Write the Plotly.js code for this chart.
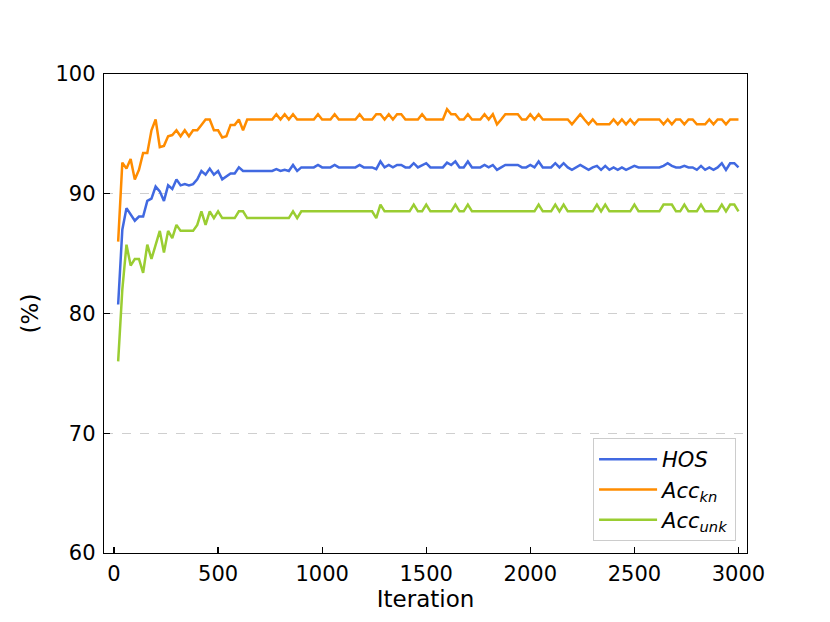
<!DOCTYPE html>
<html>
<head>
<meta charset="utf-8">
<script src="https://cdn.plot.ly/plotly-3.0.1.min.js"></script>
<style>
  html, body { margin: 0; padding: 0; background: #fff; }
  #chart { width: 830px; height: 622px; }
</style>
</head>
<body>
<div id="chart"></div>
<script>
// Iterations: evaluated every 20 iterations from 20 to 3000
const iterStep = 20;
const iterCount = 150;
const iterations = [];
for (let i = 1; i <= iterCount; i++) iterations.push(i * iterStep);

// Known-class accuracy (orange)
const accKn = [
  86.0, 92.6, 92.1, 92.9, 91.2, 92.0, 93.4, 93.4, 95.3, 96.2,
  93.9, 94.0, 94.8, 94.9, 95.3, 94.8, 95.3, 94.8, 95.3, 95.3,
  95.75, 96.2, 96.2, 95.3, 95.3, 94.7, 94.8, 95.75, 95.75, 96.2,
  95.3, 96.2, 96.2, 96.2, 96.2, 96.2, 96.2, 96.2, 96.64, 96.2,
  96.64, 96.2, 96.64, 96.2, 96.2, 96.2, 96.2, 96.2, 96.64, 96.2,
  96.2, 96.2, 96.64, 96.2, 96.2, 96.2, 96.2, 96.2, 96.64, 96.2,
  96.2, 96.2, 96.64, 96.64, 96.2, 96.64, 96.2, 96.64, 96.64, 96.2,
  96.2, 96.2, 96.2, 96.64, 96.2, 96.2, 96.2, 96.2, 96.2, 97.06,
  96.64, 96.64, 96.2, 96.2, 96.64, 96.2, 96.2, 96.2, 96.64, 96.2,
  96.64, 95.8, 96.2, 96.64, 96.64, 96.64, 96.64, 96.2, 96.2, 96.64,
  96.2, 96.64, 96.2, 96.2, 96.2, 96.2, 96.2, 96.2, 96.2, 95.8,
  96.2, 96.64, 96.2, 95.8, 96.2, 95.8, 95.8, 95.8, 95.8, 96.2,
  95.8, 96.2, 95.8, 96.2, 95.8, 96.2, 96.2, 96.2, 96.2, 96.2,
  96.2, 95.8, 96.2, 95.8, 96.2, 96.2, 95.8, 96.2, 96.2, 95.8,
  95.8, 95.8, 96.2, 95.8, 96.2, 96.2, 95.8, 96.2, 96.2, 96.2
];

// Unknown-class accuracy (green)
const accUnk = [
  76.0, 82.0, 85.75, 84.0, 84.55, 84.55, 83.4, 85.75, 84.55, 85.75,
  86.9, 85.1, 86.9, 86.3, 87.4, 86.9, 86.9, 86.9, 86.9, 87.4,
  88.53, 87.4, 88.53, 87.97, 88.53, 87.97, 87.97, 87.97, 87.97, 88.53,
  88.53, 87.97, 87.97, 87.97, 87.97, 87.97, 87.97, 87.97, 87.97, 87.97,
  87.97, 87.97, 88.53, 87.97, 88.53, 88.53, 88.53, 88.53, 88.53, 88.53,
  88.53, 88.53, 88.53, 88.53, 88.53, 88.53, 88.53, 88.53, 88.53, 88.53,
  88.53, 88.53, 87.97, 89.1, 88.53, 88.53, 88.53, 88.53, 88.53, 88.53,
  88.53, 89.1, 88.53, 88.53, 89.1, 88.53, 88.53, 88.53, 88.53, 88.53,
  88.53, 89.1, 88.53, 88.53, 89.1, 88.53, 88.53, 88.53, 88.53, 88.53,
  88.53, 88.53, 88.53, 88.53, 88.53, 88.53, 88.53, 88.53, 88.53, 88.53,
  88.53, 89.1, 88.53, 88.53, 88.53, 89.1, 88.53, 89.1, 88.53, 88.53,
  88.53, 88.53, 88.53, 88.53, 88.53, 89.1, 88.53, 89.1, 88.53, 88.53,
  88.53, 88.53, 88.53, 88.53, 89.1, 88.53, 88.53, 88.53, 88.53, 88.53,
  88.53, 89.1, 89.1, 89.1, 88.53, 88.53, 89.1, 88.53, 88.53, 88.53,
  89.1, 88.53, 88.53, 88.53, 88.53, 89.1, 88.53, 89.1, 89.1, 88.53
];

// HOS (blue)
const hos = [
  80.75, 87.0, 88.8, 88.25, 87.75, 88.1, 88.1, 89.4, 89.6, 90.6,
  90.2, 89.4, 90.7, 90.4, 91.2, 90.7, 90.8, 90.7, 90.8, 91.2,
  91.9, 91.6, 92.1, 91.6, 91.9, 91.2, 91.45, 91.7, 91.7, 92.2,
  91.9, 91.9, 91.9, 91.9, 91.9, 91.9, 91.9, 91.9, 92.05, 91.9,
  92.0, 91.9, 92.4, 91.9, 92.2, 92.2, 92.2, 92.2, 92.4, 92.2,
  92.2, 92.2, 92.4, 92.2, 92.2, 92.2, 92.2, 92.2, 92.4, 92.2,
  92.2, 92.2, 92.05, 92.7, 92.2, 92.4, 92.2, 92.4, 92.4, 92.2,
  92.2, 92.55, 92.2, 92.4, 92.55, 92.2, 92.2, 92.2, 92.2, 92.6,
  92.4, 92.7, 92.2, 92.2, 92.7, 92.2, 92.2, 92.2, 92.4, 92.2,
  92.4, 92.0, 92.2, 92.4, 92.4, 92.4, 92.4, 92.2, 92.2, 92.4,
  92.2, 92.7, 92.2, 92.2, 92.2, 92.55, 92.2, 92.55, 92.2, 92.0,
  92.2, 92.4, 92.2, 92.0, 92.2, 92.33, 92.0, 92.33, 92.0, 92.2,
  92.0, 92.2, 92.0, 92.2, 92.33, 92.2, 92.2, 92.2, 92.2, 92.2,
  92.2, 92.33, 92.55, 92.33, 92.2, 92.2, 92.33, 92.2, 92.2, 92.0,
  92.33, 92.0, 92.2, 92.0, 92.2, 92.55, 92.0, 92.55, 92.55, 92.2
];

const seriesNames = ['<i>HOS</i>', '<i>Acc<sub>kn</sub></i>', '<i>Acc<sub>unk</sub></i>'];
const seriesColors = ['#4169E1', '#FF8C00', '#9ACD32'];
const seriesValues = [hos, accKn, accUnk];

const xTicks = [0, 500, 1000, 1500, 2000, 2500, 3000];
const yTicks = [60, 70, 80, 90, 100];

const traces = seriesValues.map((vals, i) => ({
  type: 'scatter',
  mode: 'lines',
  x: iterations,
  y: vals,
  name: seriesNames[i],
  line: { color: seriesColors[i], width: 2.5 }
}));

const tickFont = { family: 'DejaVu Sans, sans-serif', size: 21, color: '#000' };
const titleFont = { family: 'DejaVu Sans, sans-serif', size: 23, color: '#000' };

const layout = {
  width: 830,
  height: 622,
  paper_bgcolor: '#fff',
  plot_bgcolor: '#fff',
  font: tickFont,
  margin: { l: 104, r: 83, t: 74, b: 69, pad: 0 },
  showlegend: true,
  legend: {
    x: 0.983, y: 0.025, xanchor: 'right', yanchor: 'bottom',
    bgcolor: 'rgba(255,255,255,0.8)',
    bordercolor: '#cccccc', borderwidth: 1,
    font: { family: 'DejaVu Sans, sans-serif', size: 21, color: '#000' },
    tracegroupgap: 4,
    itemwidth: 58
  },
  xaxis: {
    range: [-48, 3041],
    tickvals: xTicks,
    ticktext: xTicks.map(String),
    tickfont: tickFont,
    ticks: 'inside', ticklen: 6, tickwidth: 1.2, tickcolor: '#000',
    showline: true, linecolor: '#000', linewidth: 1.2, mirror: true,
    showgrid: false, zeroline: false,
    ticklabelstandoff: 2,
    title: { text: 'Iteration', font: titleFont, standoff: 3 }
  },
  yaxis: {
    range: [60, 100],
    tickvals: yTicks,
    ticktext: yTicks.map(String),
    tickfont: tickFont,
    ticks: 'inside', ticklen: 6, tickwidth: 1.2, tickcolor: '#000',
    showline: true, linecolor: '#000', linewidth: 1.2, mirror: true,
    showgrid: true, gridcolor: '#cfcfcf', gridwidth: 1, griddash: 'dash',
    zeroline: false,
    ticklabelstandoff: 3,
    title: { text: '(%)', font: titleFont, standoff: 10 }
  }
};

Plotly.newPlot('chart', traces, layout, { displayModeBar: false, staticPlot: true });
</script>
</body>
</html>
